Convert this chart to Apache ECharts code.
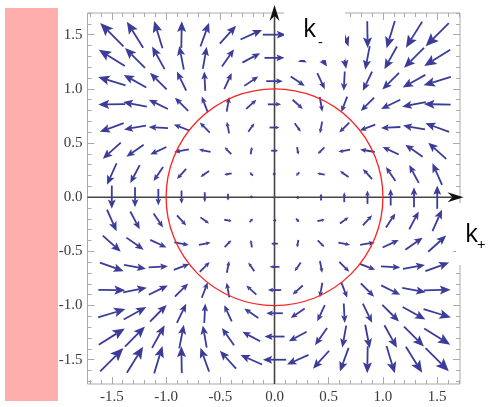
<!DOCTYPE html>
<html><head><meta charset="utf-8">
<script src="https://cdn.jsdelivr.net/npm/echarts@6/dist/echarts.min.js"></script>
<style>html,body{margin:0;padding:0;background:#fff}#c{width:493px;height:407px;position:relative}</style>
</head><body><div id="c"></div>
<script>
// ---- data ----
const gridVals = [-1.5,-1.286,-1.071,-0.857,-0.643,-0.429,-0.214,0,0.214,0.429,0.643,0.857,1.071,1.286,1.5];
// arrow direction in degrees (0 = +k+, 90 = +k-), rows from top (k- = 1.5) to bottom (k- = -1.5)
const angleRows = [
 [135,122,107,89,70,48,24,0,336,312,290,271,253,238,225],
 [148,135,119,101,80,55,28,0,332,305,280,259,241,225,212],
 [163,151,135,116,93,65,34,0,326,295,267,244,225,209,197],
 [181,169,154,135,111,80,42,0,318,280,249,225,206,191,179],
 [200,190,177,159,135,101,55,0,305,259,225,201,183,170,160],
 [222,215,205,190,169,135,80,0,280,225,191,170,155,145,138],
 [246,242,236,228,215,190,135,0,225,170,145,132,124,118,114],
 [270,270,270,270,270,270,270,0,90,90,90,90,90,90,90],
 [294,298,304,312,325,350,45,180,315,10,35,48,56,62,66],
 [318,325,335,350,11,45,100,180,260,315,349,10,25,35,42],
 [340,350,3,21,45,79,125,180,235,281,315,339,357,10,20],
 [359,11,26,45,69,100,138,180,222,260,291,315,334,349,1],
 [17,29,45,64,87,115,146,180,214,245,273,296,315,331,343],
 [32,45,61,79,100,125,152,180,208,235,260,281,299,315,328],
 [45,58,73,91,110,132,156,180,204,228,250,269,287,302,315]
];
// displayed arrow magnitude, same row order
const magRows = [
 [2.12,1.98,1.84,1.73,1.63,1.56,1.52,1.50,1.52,1.56,1.63,1.73,1.84,1.98,2.12],
 [1.98,1.82,1.67,1.55,1.44,1.36,1.30,1.29,1.30,1.36,1.44,1.55,1.67,1.82,1.98],
 [1.84,1.67,1.52,1.37,1.25,1.15,1.09,1.07,1.09,1.15,1.25,1.37,1.52,1.67,1.84],
 [1.73,1.55,1.37,1.21,1.07,0.96,0.88,0.86,0.88,0.96,1.07,1.21,1.37,1.55,1.73],
 [1.63,1.44,1.25,1.07,0.91,0.77,0.68,0.64,0.68,0.77,0.91,1.07,1.25,1.44,1.63],
 [1.56,1.36,1.15,0.96,0.77,0.61,0.48,0.43,0.48,0.61,0.77,0.96,1.15,1.36,1.56],
 [1.52,1.30,1.09,0.88,0.68,0.48,0.30,0.21,0.30,0.48,0.68,0.88,1.09,1.30,1.52],
 [1.50,1.29,1.07,0.86,0.64,0.43,0.21,0,0.21,0.43,0.64,0.86,1.07,1.29,1.50],
 [1.52,1.30,1.09,0.88,0.68,0.48,0.30,0.21,0.30,0.48,0.68,0.88,1.09,1.30,1.52],
 [1.56,1.36,1.15,0.96,0.77,0.61,0.48,0.43,0.48,0.61,0.77,0.96,1.15,1.36,1.56],
 [1.63,1.44,1.25,1.07,0.91,0.77,0.68,0.64,0.68,0.77,0.91,1.07,1.25,1.44,1.63],
 [1.73,1.55,1.37,1.21,1.07,0.96,0.88,0.86,0.88,0.96,1.07,1.21,1.37,1.55,1.73],
 [1.84,1.67,1.52,1.37,1.25,1.15,1.09,1.07,1.09,1.15,1.25,1.37,1.52,1.67,1.84],
 [1.98,1.82,1.67,1.55,1.44,1.36,1.30,1.29,1.30,1.36,1.44,1.55,1.67,1.82,1.98],
 [2.12,1.98,1.84,1.73,1.63,1.56,1.52,1.50,1.52,1.56,1.63,1.73,1.84,1.98,2.12]
];
const circleRadius = [1];
const majorTicks = [-1.5,-1,-0.5,0,0.5,1,1.5];
const minorTicks = [-1.7,-1.6,-1.4,-1.3,-1.2,-1.1,-0.9,-0.8,-0.7,-0.6,-0.4,-0.3,-0.2,-0.1,0.1,0.2,0.3,0.4,0.6,0.7,0.8,0.9,1.1,1.2,1.3,1.4,1.6,1.7];
const xLabel = 'k';
const xSub = '+';
const yLabel = 'k';
const ySub = '-';

// ---- styles / layout ----
const X_MIN = -1.724, X_MAX = 1.71, Y_MIN = -1.724, Y_MAX = 1.70;
const ARROW_PX = 15.5;
const ARROW_COLOR = '#3b3b99';
const FRAME = '#a9a9a9';
const LABEL_FONT = 'Liberation Serif';

const arrowData = [];
for (let r = 0; r < angleRows.length; r++) {
  for (let c = 0; c < gridVals.length; c++) {
    arrowData.push([gridVals[c], gridVals[gridVals.length - 1 - r], angleRows[r][c], magRows[r][c]]);
  }
}

function xAxisDef(pos, vals, len, withLabels) {
  return {type:'value', min:X_MIN, max:X_MAX, position:pos, scale:true,
    axisLine:{show:false, onZero:false}, splitLine:{show:false},
    axisTick:{show:true, inside:true, length:len, customValues:vals, lineStyle:{color:FRAME, width:1}},
    axisLabel:{show:withLabels, customValues:vals, formatter:v => v.toFixed(1), color:'#3a3a3a', fontFamily:LABEL_FONT, fontSize:15, margin:6}};
}
function yAxisDef(pos, vals, len, withLabels) {
  return {type:'value', min:Y_MIN, max:Y_MAX, position:pos, scale:true,
    axisLine:{show:false, onZero:false}, splitLine:{show:false},
    axisTick:{show:true, inside:true, length:len, customValues:vals, lineStyle:{color:FRAME, width:1}},
    axisLabel:{show:withLabels, customValues:vals, formatter:v => v.toFixed(1), color:'#3a3a3a', fontFamily:LABEL_FONT, fontSize:15, margin:5}};
}

function renderArrow(params, api) {
  const c = api.coord([api.value(0), api.value(1)]);
  const a = api.value(2) * Math.PI / 180;
  const L = api.value(3) * ARROW_PX;
  if (!(L > 0.3)) return null;
  const ux = Math.cos(a), uy = -Math.sin(a);
  const px = -uy, py = ux;
  const tx = c[0] + ux * L / 2, ty = c[1] + uy * L / 2;
  const sx = c[0] - ux * L / 2, sy = c[1] - uy * L / 2;
  const hl = Math.max(L * 0.4, 2.6), hw = Math.max(L * 0.17, 1.7);
  const bx = tx - ux * hl, by = ty - uy * hl;
  const nx = tx - ux * hl * 0.8, ny = ty - uy * hl * 0.8;
  return {type:'group', children:[
    {type:'line', shape:{x1:sx, y1:sy, x2:nx, y2:ny}, style:{stroke:ARROW_COLOR, lineWidth:1.8}},
    {type:'polygon', shape:{points:[[tx,ty],[bx+px*hw,by+py*hw],[nx,ny],[bx-px*hw,by-py*hw]]}, style:{fill:ARROW_COLOR}}
  ]};
}

function renderAxes(params, api) {
  const o = api.coord([0, 0]);
  const left = api.coord([X_MIN, 0])[0];
  const bottom = api.coord([0, Y_MIN])[1];
  const xTip = 463.5, yTip = 5;
  const hl = 16, hw = 5, notch = 11;
  return {type:'group', children:[
    {type:'line', shape:{x1:left, y1:o[1], x2:xTip - notch, y2:o[1]}, style:{stroke:'#454545', lineWidth:1.6}},
    {type:'line', shape:{x1:o[0], y1:bottom, x2:o[0], y2:yTip + notch}, style:{stroke:'#454545', lineWidth:1.6}},
    {type:'polygon', shape:{points:[[xTip,o[1]],[xTip-hl,o[1]-hw],[xTip-notch,o[1]],[xTip-hl,o[1]+hw]]}, style:{fill:'#111'}},
    {type:'polygon', shape:{points:[[o[0],yTip],[o[0]-hw,yTip+hl],[o[0],yTip+notch],[o[0]+hw,yTip+hl]]}, style:{fill:'#111'}}
  ]};
}

function renderCircle(params, api) {
  const c = api.coord([api.value(0), api.value(1)]);
  const rx = api.size([api.value(2), 0])[0];
  const ry = api.size([0, api.value(2)])[1];
  return {type:'circle', shape:{cx:c[0], cy:c[1], r:(rx + ry) / 2}, style:{fill:null, stroke:'#ff2222', lineWidth:1.3}};
}

const chart = echarts.init(document.getElementById('c'), null, {renderer:'canvas'});
chart.setOption({
  animation:false,
  backgroundColor:'#fff',
  grid:{left:87.5, top:13, width:372.5, height:371, show:true, borderColor:FRAME, borderWidth:1, backgroundColor:'transparent', outerBoundsMode:'none', containLabel:false},
  xAxis:[
    xAxisDef('bottom', majorTicks, 7, true),
    xAxisDef('bottom', minorTicks, 4, false),
    xAxisDef('top', majorTicks, 7, false),
    xAxisDef('top', minorTicks, 4, false)
  ],
  yAxis:[
    yAxisDef('left', majorTicks, 7, true),
    yAxisDef('left', minorTicks, 4, false),
    yAxisDef('right', majorTicks, 7, false),
    yAxisDef('right', minorTicks, 4, false)
  ],
  series:[
    {type:'custom', name:'axes', xAxisIndex:0, yAxisIndex:0, clip:false, z:2, data:[[0,0]], encode:{x:0, y:1}, renderItem:renderAxes, silent:true},
    {type:'custom', name:'field', xAxisIndex:0, yAxisIndex:0, clip:false, z:3, data:arrowData, encode:{x:0, y:1}, dimensions:['k+','k-','angle','mag'], renderItem:renderArrow, silent:true},
    {type:'custom', name:'circle', xAxisIndex:0, yAxisIndex:0, clip:false, z:4, data:[[0,0,circleRadius[0]]], encode:{x:0, y:1}, renderItem:renderCircle, silent:true}
  ],
  graphic:[
    {type:'rect', left:5, top:8, shape:{width:53, height:393}, style:{fill:'#ffaeae'}, z:10},
    {type:'rect', left:284, top:0, shape:{width:61, height:60}, style:{fill:'#fff'}, z:10},
    {type:'rect', left:456, top:203, shape:{width:37, height:62}, style:{fill:'#fff'}, z:10},
    {type:'text', left:303, top:17, style:{text:yLabel, font:'25px "Open Sans"', fill:'#000'}, z:11},
    {type:'text', left:318, top:35, style:{text:ySub, font:'15px "Open Sans"', fill:'#000'}, z:11},
    {type:'text', left:465, top:222, style:{text:xLabel, font:'25px "Open Sans"', fill:'#000'}, z:11},
    {type:'text', left:477, top:238, style:{text:xSub, font:'15px "Open Sans"', fill:'#000'}, z:11}
  ]
});
</script>
</body></html>
